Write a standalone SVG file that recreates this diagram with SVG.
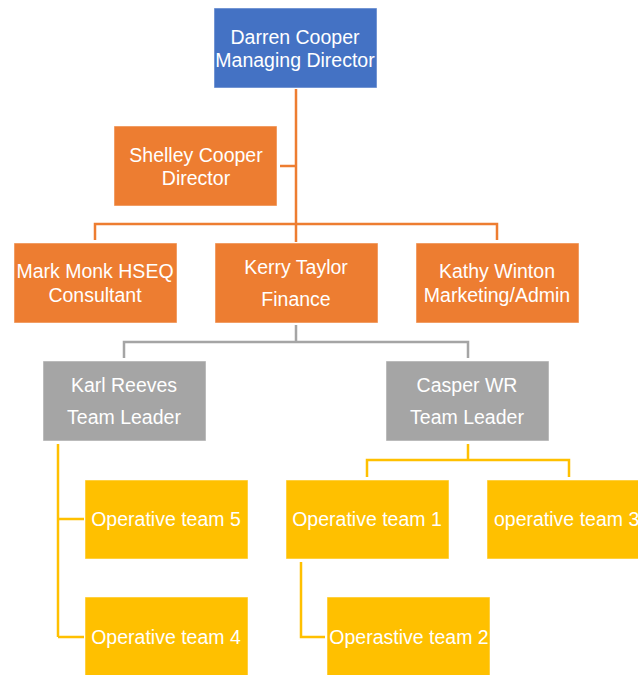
<svg xmlns="http://www.w3.org/2000/svg" width="638" height="675" viewBox="0 0 638 675">
<style>
text{font-family:"Liberation Sans",Arial,sans-serif;font-size:19.5px;fill:#fff;text-anchor:middle}
.b{fill:#4472C4}.o{fill:#ED7D31}.g{fill:#A5A5A5}.y{fill:#FFC000}
rect{stroke:#fff;stroke-opacity:.5;stroke-width:1}
.lo{stroke:#ED7D31}.lg{stroke:#A5A5A5}.ly{stroke:#FFC000}
#connectors path{fill:none;stroke-width:2.5}
</style>
<rect width="638" height="675" fill="#fff" stroke="none"/>
<g id="connectors">
<path class="lo" d="M296 89V224M280 166H296M95 240V224H497V240M296 224V242"/>
<path class="lg" d="M296 325V342M124 358V342H468V358"/>
<path class="ly" d="M58 444V637M58 519H84M58 637H84"/>
<path class="ly" d="M468 444V460M367 477V460H569V477"/>
<path class="ly" d="M301 562V637H325"/>
</g>
<g id="darren"><rect class="b" x="214" y="8" width="163" height="80"/><text x="295" y="44">Darren Cooper</text><text x="295" y="67">Managing Director</text></g>
<g id="shelley"><rect class="o" x="114" y="126" width="163" height="80"/><text x="196" y="162">Shelley Cooper</text><text x="196" y="185">Director</text></g>
<g id="mark"><rect class="o" x="14" y="243" width="163" height="80"/><text x="95" y="278">Mark Monk HSEQ</text><text x="95" y="302">Consultant</text></g>
<g id="kerry"><rect class="o" x="215" y="243" width="163" height="80"/><text x="296" y="274">Kerry Taylor</text><text x="296" y="306">Finance</text></g>
<g id="kathy"><rect class="o" x="416" y="243" width="163" height="80"/><text x="497" y="278">Kathy Winton</text><text x="497" y="302">Marketing/Admin</text></g>
<g id="karl"><rect class="g" x="43" y="361" width="163" height="80"/><text x="124" y="392">Karl Reeves</text><text x="124" y="424">Team Leader</text></g>
<g id="casper"><rect class="g" x="386" y="361" width="163" height="80"/><text x="467" y="392">Casper WR</text><text x="467" y="424">Team Leader</text></g>
<g id="team5"><rect class="y" x="85" y="480" width="163" height="79"/><text x="166" y="526">Operative team 5</text></g>
<g id="team4"><rect class="y" x="85" y="597" width="163" height="79"/><text x="166" y="644">Operative team 4</text></g>
<g id="team1"><rect class="y" x="286" y="480" width="163" height="79"/><text x="367" y="526">Operative team 1</text></g>
<g id="team3"><rect class="y" x="487" y="480" width="163" height="79"/><text x="494" y="526" style="text-anchor:start">operative team 3</text></g>
<g id="team2"><rect class="y" x="327" y="597" width="163" height="79"/><text x="409" y="644">Operastive team 2</text></g>
</svg>
